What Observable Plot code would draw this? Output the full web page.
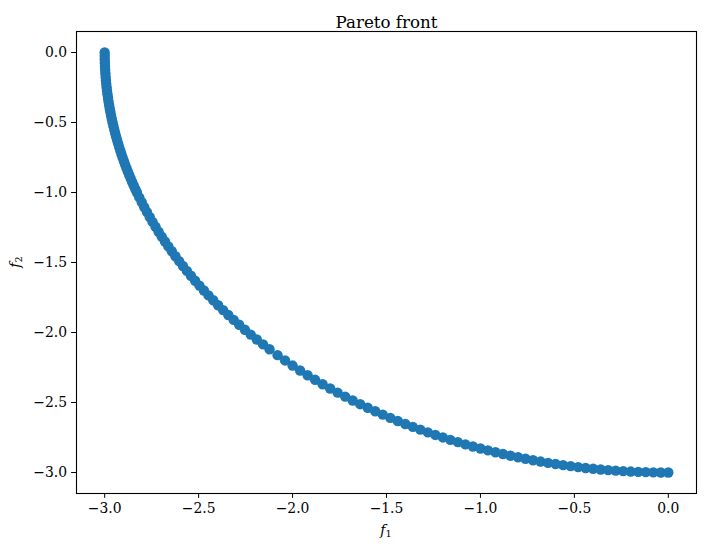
<!DOCTYPE html>
<html><head><meta charset="utf-8">
<script src="https://cdn.jsdelivr.net/npm/d3@7"></script>
<script src="https://cdn.jsdelivr.net/npm/@observablehq/plot@0.6"></script>
<style>body{margin:0;background:#fff}</style>
</head><body><div id="chart"></div>
<script>
const title = "Pareto front";
const xTicks = [-3.0, -2.5, -2.0, -1.5, -1.0, -0.5, 0.0];
const yTicks = [0.0, -0.5, -1.0, -1.5, -2.0, -2.5, -3.0];

const f1 = [
  -3.000, -3.000, -2.9996, -2.9991, -2.9983, -2.9974, -2.9963, -2.9949, -2.9933, -2.9916,
  -2.9896, -2.9874, -2.9850, -2.9823, -2.9795, -2.9765, -2.9732, -2.9698, -2.9661, -2.9622,
  -2.9580, -2.9537, -2.9492, -2.9444, -2.9394, -2.9342, -2.9287, -2.9231, -2.9172, -2.9111,
  -2.9047, -2.8982, -2.8914, -2.8843, -2.8771, -2.8696, -2.8618, -2.8538, -2.8456, -2.8371,
  -2.8284,
  -2.8158, -2.8027, -2.7891, -2.7750, -2.7603, -2.7452, -2.7295, -2.7132, -2.6964, -2.6791,
  -2.6612, -2.6427, -2.6236, -2.6038, -2.5835, -2.5625, -2.5409, -2.5186, -2.4956, -2.4718,
  -2.4474, -2.4222, -2.3962, -2.3695, -2.3419, -2.3134, -2.2841, -2.2538, -2.2226, -2.1903,
  -2.1570, -2.1226,
  -2.08, -2.04, -2.00, -1.96, -1.92, -1.88, -1.84, -1.80, -1.76, -1.72,
  -1.68, -1.64, -1.60, -1.56, -1.52, -1.48, -1.44, -1.40, -1.36, -1.32,
  -1.28, -1.24, -1.20, -1.16, -1.12, -1.08, -1.04, -1.00, -0.96, -0.92,
  -0.88, -0.84, -0.80, -0.76, -0.72, -0.68, -0.64, -0.60, -0.56, -0.52,
  -0.48, -0.44, -0.40, -0.36, -0.32, -0.28, -0.24, -0.20, -0.16, -0.12,
  -0.08, -0.04, 0.00
];
const f2 = [
  0.000, -0.025, -0.050, -0.075, -0.100, -0.125, -0.150, -0.175, -0.200, -0.225,
  -0.250, -0.275, -0.300, -0.325, -0.350, -0.375, -0.400, -0.425, -0.450, -0.475,
  -0.500, -0.525, -0.550, -0.575, -0.600, -0.625, -0.650, -0.675, -0.700, -0.725,
  -0.750, -0.775, -0.800, -0.825, -0.850, -0.875, -0.900, -0.925, -0.950, -0.975,
  -1.000,
  -1.035, -1.070, -1.105, -1.140, -1.175, -1.210, -1.245, -1.280, -1.315, -1.350,
  -1.385, -1.420, -1.455, -1.490, -1.525, -1.560, -1.595, -1.630, -1.665, -1.700,
  -1.735, -1.770, -1.805, -1.840, -1.875, -1.910, -1.945, -1.980, -2.015, -2.050,
  -2.085, -2.120,
  -2.1618, -2.1996, -2.2361, -2.2712, -2.3051, -2.3379, -2.3695, -2.4000, -2.4295, -2.4580,
  -2.4855, -2.5120, -2.5377, -2.5625, -2.5864, -2.6095, -2.6318, -2.6533, -2.6740, -2.6940,
  -2.7132, -2.7317, -2.7495, -2.7667, -2.7831, -2.7989, -2.8140, -2.8284, -2.8423, -2.8555,
  -2.8680, -2.8800, -2.8914, -2.9021, -2.9123, -2.9219, -2.9309, -2.9394, -2.9473, -2.9546,
  -2.9614, -2.9676, -2.9732, -2.9783, -2.9829, -2.9869, -2.9904, -2.9933, -2.9957, -2.9976,
  -2.9989, -2.9997, -3.0000
];

const data = f1.map((x, i) => ({f1: x, f2: f2[i]}));
const fmt = d => d.toFixed(1).replace("-", "\u2212");

const ML = 76, MR = 10, MT = 31, MB = 57, W = 706, H = 550;

const chart = Plot.plot({
  width: W, height: H,
  marginLeft: ML, marginRight: MR, marginTop: MT, marginBottom: MB,
  style: {fontFamily: "DejaVu Serif", fontSize: "13.9px", background: "white", color: "black"},
  x: {domain: [-3.15, 0.15], ticks: xTicks, tickFormat: fmt, label: null, tickSize: 4.9, tickPadding: 4.5},
  y: {domain: [-3.15, 0.15], ticks: yTicks, tickFormat: fmt, label: null, tickSize: 4.9, tickPadding: 4.5},
  marks: [
    Plot.dot(data, {x: "f1", y: "f2", r: 5.2, fill: "#1f77b4", stroke: "none"}),
    Plot.frame({stroke: "black", strokeWidth: 1.1}),
    Plot.text([title], {frameAnchor: "top", dy: -15, fontSize: 16.7, fill: "black", text: d => d})
  ]
});

const svg = d3.select(chart);
const cx = ML + (W - ML - MR) / 2;
const cy = MT + (H - MT - MB) / 2;
const xl = svg.append("text")
  .attr("x", cx).attr("y", 535)
  .attr("text-anchor", "middle")
  .attr("font-family", "DejaVu Serif").attr("font-size", 13.9).attr("fill", "black");
xl.append("tspan").attr("font-style", "italic").text("f");
xl.append("tspan").attr("font-size", 9.7).attr("dy", "0.22em").text("1");

const yl = svg.append("text")
  .attr("transform", `translate(20,${cy}) rotate(-90)`)
  .attr("text-anchor", "middle")
  .attr("font-family", "DejaVu Serif").attr("font-size", 13.9).attr("fill", "black");
yl.append("tspan").attr("font-style", "italic").text("f");
yl.append("tspan").attr("font-size", 9.7).attr("dy", "0.22em").text("2");

document.getElementById("chart").appendChild(chart);
</script>
</body></html>
